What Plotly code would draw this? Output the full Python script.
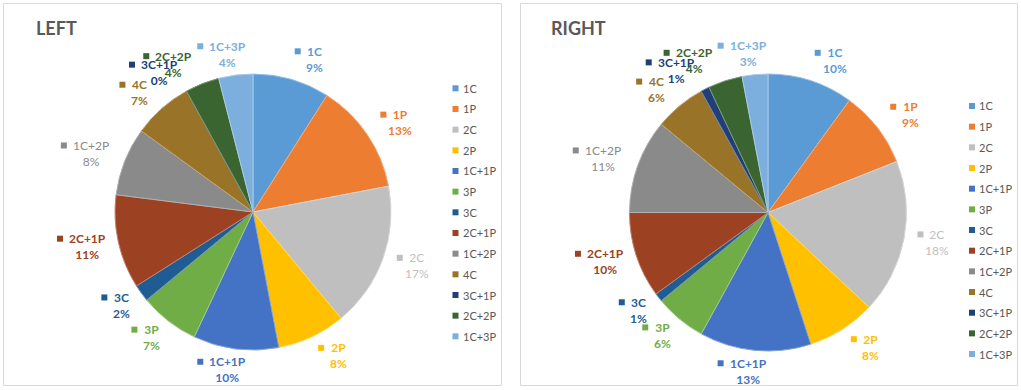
import math
import plotly.graph_objects as go

categories = ["1C", "1P", "2C", "2P", "1C+1P", "3P", "3C", "2C+1P", "1C+2P", "4C", "3C+1P", "2C+2P", "1C+3P"]
left_values = [9, 13, 17, 8, 10, 7, 2, 11, 8, 7, 0, 4, 4]
right_values = [10, 9, 18, 8, 13, 6, 1, 10, 11, 6, 1, 4, 3]
panel_titles = ["LEFT", "RIGHT"]

colors = ["#5B9BD5", "#ED7D31", "#BFBFBF", "#FFC000", "#4472C4", "#70AD47", "#1F5C94",
          "#9C4122", "#8A8A8A", "#997328", "#203F78", "#3A6430", "#7CAFDD"]

W, H = 1021, 390
FONT = "Lato, 'Open Sans', sans-serif"


def X(px):
    return px / W


def Y(py):
    return 1 - py / H


def lighten(hexc, f):
    r, g, b = int(hexc[1:3], 16), int(hexc[3:5], 16), int(hexc[5:7], 16)
    r, g, b = [int(v + (255 - v) * f) for v in (r, g, b)]
    return "#%02X%02X%02X" % (r, g, b)


panels = [
    dict(values=left_values, title=panel_titles[0], box=(3.5, 3.5, 501.5, 385.5),
         center=(253, 212), R=138, title_x=34, legend_sq_x=452.5, legend_y0=88.3),
    dict(values=right_values, title=panel_titles[1], box=(520.5, 3.5, 1017.5, 385.5),
         center=(768, 212.5), R=138.5, title_x=549, legend_sq_x=969, legend_y0=106),
]

fig = go.Figure()
shapes = []
annotations = []
LEG_STEP = 20.67
SQ, GAP, CW = 6, 7, 7.0

for p in panels:
    cx, cy = p["center"]
    R = p["R"]
    x0, y0, x1, y1 = p["box"]
    shapes.append(dict(type="rect", xref="paper", yref="paper", x0=X(x0), x1=X(x1), y0=Y(y1), y1=Y(y0),
                       line=dict(color="#D9D9D9", width=1), fillcolor="rgba(0,0,0,0)", layer="below"))
    fig.add_trace(go.Pie(
        labels=categories, values=p["values"], sort=False, direction="clockwise", rotation=0,
        textinfo="none", hoverinfo="label+percent", showlegend=False,
        marker=dict(colors=colors, line=dict(color=[lighten(c, 0.35) for c in colors], width=1)),
        domain=dict(x=[X(cx - R), X(cx + R)], y=[Y(cy + R), Y(cy - R)]),
    ))
    annotations.append(dict(text="<b>%s</b>" % p["title"], x=X(p["title_x"]), y=Y(28.5), xref="paper", yref="paper",
                            xanchor="left", yanchor="middle", showarrow=False,
                            font=dict(family=FONT, size=18, color="#595959")))
    # legend
    for i, (name, col) in enumerate(zip(categories, colors)):
        ly = p["legend_y0"] + i * LEG_STEP
        sx = p["legend_sq_x"]
        shapes.append(dict(type="rect", xref="paper", yref="paper", x0=X(sx), x1=X(sx + 6),
                           y0=Y(ly + 3), y1=Y(ly - 3), line=dict(width=0), fillcolor=col))
        annotations.append(dict(text=name, x=X(sx + 8), y=Y(ly), xref="paper", yref="paper",
                                xanchor="left", yanchor="middle", showarrow=False,
                                font=dict(family=FONT, size=11, color="#595959")))
    # data labels: layout
    total = sum(p["values"])
    cum = 0
    Rl = R + 12
    labels = []
    for name, v, col in zip(categories, p["values"], colors):
        mid = (cum + v / 2) / total * 2 * math.pi
        cum += v
        s, c = math.sin(mid), math.cos(mid)
        tw = CW * len(name)
        w, h = SQ + GAP + tw, 18
        sgn = 1 if s >= 0 else -1
        bx = cx + Rl * s + s * w / 2 + sgn * 10 * abs(c)
        by = cy - Rl * c - c * h / 2
        labels.append(dict(name=name, v=v, col=col, left=bx - w / 2, w=w, tw=tw, by=by, s=s, c=c, shift=0.0))
    # simple collision avoidance in the upper-left quadrant
    prev = None
    for lb in reversed(labels):
        if lb["s"] < 0 and lb["c"] > 0:
            if prev is not None:
                need = 0.0
                if prev["shift"] == 0 and abs(lb["by"] - prev["by"]) <= 10.5:
                    need = max(0.0, lb["left"] + lb["w"] - (prev["left"] - 6))
                lb["shift"] = max(need, 0.6 * prev["shift"])
                lb["left"] -= lb["shift"]
            prev = lb
    for lb in labels:
        left, tw, by, col, name = lb["left"], lb["tw"], lb["by"], lb["col"], lb["name"]
        pct = "%d%%" % round(100 * lb["v"] / total)
        bold = name not in ("2C", "1C+2P")
        txt = "%s<br>%s" % (name, pct)
        if bold:
            txt = "<b>%s</b><br><b>%s</b>" % (name, pct)
        annotations.append(dict(text=txt, x=X(left + SQ + GAP + tw / 2), y=Y(by), xref="paper", yref="paper",
                                xanchor="center", yanchor="middle", align="center", showarrow=False,
                                font=dict(family=FONT, size=12, color=col)))
        shapes.append(dict(type="rect", xref="paper", yref="paper", x0=X(left), x1=X(left + SQ),
                           y0=Y(by - 8 + 3), y1=Y(by - 8 - 3), line=dict(width=0), fillcolor=col))

fig.update_layout(
    width=W, height=H, margin=dict(l=0, r=0, t=0, b=0),
    paper_bgcolor="white", plot_bgcolor="white",
    shapes=shapes, annotations=annotations, showlegend=False,
    font=dict(family=FONT),
)
fig.write_html("out.html", config={"displayModeBar": False},
               post_script="document.body.style.margin='0';document.body.style.overflow='hidden';")
